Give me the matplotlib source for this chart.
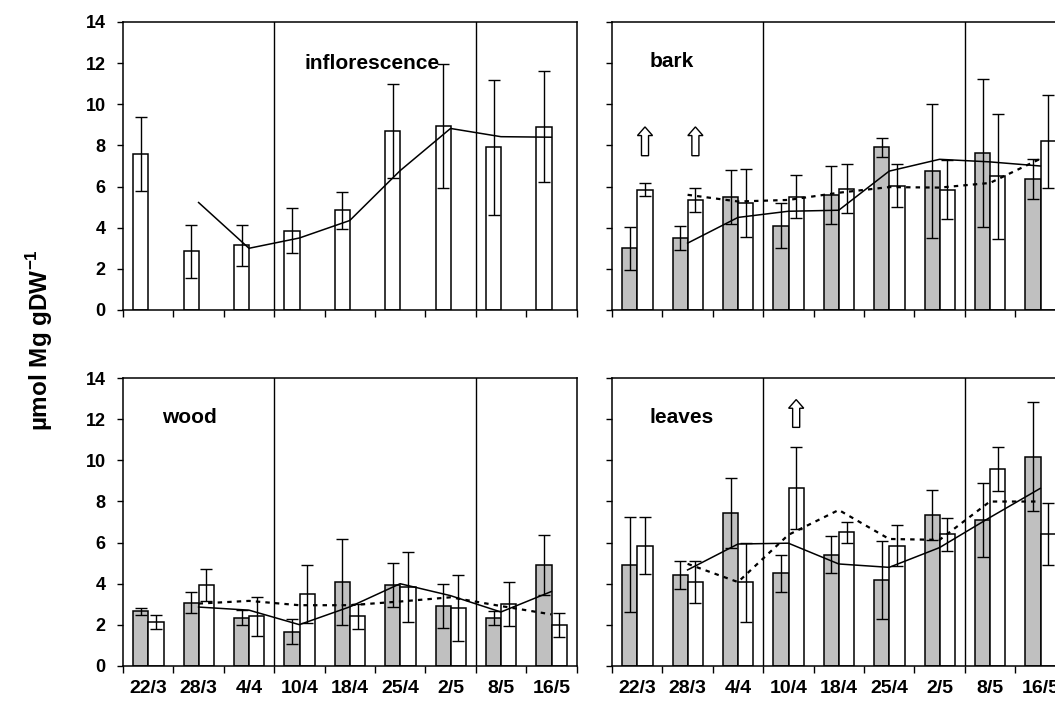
import numpy as np
import pandas as pd
import matplotlib
matplotlib.use("Agg")
import matplotlib.pyplot as plt
from matplotlib.patches import FancyArrow

plt.rcParams["font.family"] = ["Liberation Sans", "DejaVu Sans"]
plt.rcParams["font.weight"] = "bold"
plt.rcParams["mathtext.fontset"] = "custom"
plt.rcParams["mathtext.rm"] = "Liberation Sans:bold"
plt.rcParams["mathtext.bf"] = "Liberation Sans:bold"

# sampling dates
dates = ["22/3", "28/3", "4/4", "10/4", "18/4", "25/4", "2/5", "8/5", "16/5"]

# inflorescence (single series)
infl_mean = [7.6, 2.85, 3.15, 3.85, 4.85, 8.7, 8.95, 7.9, 8.9]
infl_sd = [1.8, 1.3, 1.0, 1.1, 0.9, 2.3, 3.0, 3.3, 2.7]

# bark
bark_grey_mean = [3.0, 3.5, 5.5, 4.1, 5.6, 7.9, 6.75, 7.65, 6.35]
bark_grey_sd = [1.05, 0.6, 1.3, 1.1, 1.4, 0.47, 3.25, 3.6, 0.97]
bark_white_mean = [5.85, 5.35, 5.2, 5.5, 5.9, 6.05, 5.85, 6.5, 8.2]
bark_white_sd = [0.33, 0.57, 1.65, 1.05, 1.2, 1.04, 1.42, 3.05, 2.25]

# wood
wood_grey_mean = [2.65, 3.08, 2.35, 1.67, 4.08, 3.92, 2.92, 2.33, 4.91]
wood_grey_sd = [0.17, 0.5, 0.35, 0.6, 2.08, 1.07, 1.08, 0.35, 1.48]
wood_white_mean = [2.15, 3.92, 2.41, 3.5, 2.41, 3.86, 2.82, 3.01, 2.01]
wood_white_sd = [0.33, 0.78, 0.93, 1.4, 0.6, 1.7, 1.62, 1.07, 0.59]

# leaves
leaves_grey_mean = [4.92, 4.42, 7.44, 4.5, 5.42, 4.17, 7.34, 7.1, 10.17]
leaves_grey_sd = [2.3, 0.7, 1.7, 0.92, 0.92, 1.9, 1.2, 1.8, 2.65]
leaves_white_mean = [5.85, 4.08, 4.08, 8.67, 6.5, 5.85, 6.41, 9.58, 6.41]
leaves_white_sd = [1.4, 1.0, 1.92, 2.0, 0.5, 1.0, 0.8, 1.07, 1.5]

# period boundaries (category edges)
period_edges = [3, 7]

# hollow arrows: (date index, base value, tip value)
bark_arrows = [(0, 7.5, 8.9), (1, 7.5, 8.9)]
leaves_arrows = [(3, 11.6, 12.95)]

GREY = "#c0c0c0"
BAR_W = 0.3
W, H = 1055, 705

fig = plt.figure(figsize=(W / 100, H / 100), dpi=100)


def px_axes(left, top, width, height):
    return fig.add_axes([left / W, 1 - (top + height) / H, width / W, height / H])


def style_axes(ax, show_y, show_x):
    n = len(dates)
    ax.set_xlim(0, n)
    ax.set_ylim(0, 14)
    ax.set_yticks(np.arange(0, 15, 2))
    ax.set_xticks(np.arange(n) + 0.5)
    ax.set_xticks(np.arange(n + 1), minor=True)
    ax.tick_params(axis="x", which="major", length=0, pad=10,
                   labelsize=14, labelbottom=show_x)
    ax.tick_params(axis="x", which="minor", length=5, width=1.0,
                   direction="out")
    ax.tick_params(axis="y", length=4.5, width=1.0, direction="out",
                   pad=8, labelsize=13, labelleft=show_y)
    if show_x:
        ax.set_xticklabels(dates, fontweight="bold")
    for lab in ax.get_yticklabels():
        lab.set_fontweight("bold")
    for s in ax.spines.values():
        s.set_linewidth(1.1)
    for e in period_edges:
        ax.axvline(e, color="black", lw=1.0, zorder=4)


def bars(ax, mean, sd, offset, color):
    x = np.arange(len(mean)) + 0.5 + offset
    ax.bar(x, mean, width=BAR_W, color=color, edgecolor="black",
           linewidth=1.1, zorder=2)
    ax.errorbar(x, mean, yerr=sd, fmt="none", ecolor="black",
                elinewidth=1.0, capsize=4.3, capthick=1.0, zorder=3)


def trend(ax, mean, dotted):
    # two-period moving average trendline
    ma = pd.Series(mean).rolling(2).mean()
    x = np.arange(len(mean)) + 0.5
    if dotted:
        ax.plot(x, ma, color="black", lw=1.6, linestyle=(0, (2.0, 2.3)),
                zorder=5)
    else:
        ax.plot(x, ma, color="black", lw=1.1, zorder=5)


def arrows(ax, items):
    for idx, y0, y1 in items:
        x = idx + 0.5 + 0.155
        ax.add_patch(FancyArrow(x, y0, 0, y1 - y0, width=0.14,
                                head_width=0.3, head_length=0.42,
                                length_includes_head=True,
                                facecolor="white", edgecolor="black",
                                linewidth=1.0, zorder=6))


ax_infl = px_axes(123, 22, 453.5, 288)
ax_bark = px_axes(612, 22, 453.5, 288)
ax_wood = px_axes(123, 378, 453.5, 288)
ax_leaves = px_axes(612, 378, 453.5, 288)

# inflorescence
bars(ax_infl, infl_mean, infl_sd, -0.145, "white")
trend(ax_infl, infl_mean, False)
style_axes(ax_infl, True, False)
ax_infl.text(3.6, 12.0, "inflorescence", fontsize=15, fontweight="bold",
             va="center", ha="left", zorder=1)

# bark
bars(ax_bark, bark_grey_mean, bark_grey_sd, -0.145, GREY)
bars(ax_bark, bark_white_mean, bark_white_sd, 0.155, "white")
trend(ax_bark, bark_grey_mean, False)
trend(ax_bark, bark_white_mean, True)
arrows(ax_bark, bark_arrows)
style_axes(ax_bark, False, False)
ax_bark.text(0.75, 12.07, "bark", fontsize=15, fontweight="bold",
             va="center", ha="left")

# wood
bars(ax_wood, wood_grey_mean, wood_grey_sd, -0.145, GREY)
bars(ax_wood, wood_white_mean, wood_white_sd, 0.155, "white")
trend(ax_wood, wood_grey_mean, False)
trend(ax_wood, wood_white_mean, True)
style_axes(ax_wood, True, True)
ax_wood.text(0.77, 12.1, "wood", fontsize=15, fontweight="bold",
             va="center", ha="left")

# leaves
bars(ax_leaves, leaves_grey_mean, leaves_grey_sd, -0.145, GREY)
bars(ax_leaves, leaves_white_mean, leaves_white_sd, 0.155, "white")
trend(ax_leaves, leaves_grey_mean, False)
trend(ax_leaves, leaves_white_mean, True)
arrows(ax_leaves, leaves_arrows)
style_axes(ax_leaves, False, True)
ax_leaves.text(0.75, 12.1, "leaves", fontsize=15, fontweight="bold",
               va="center", ha="left")

fig.text(40 / W, 1 - 340 / H, "µmol Mg gDW$^{-1}$", rotation=90,
         fontsize=17.5, fontweight="bold", ha="center", va="center")

fig.savefig("out.png", dpi=100)
